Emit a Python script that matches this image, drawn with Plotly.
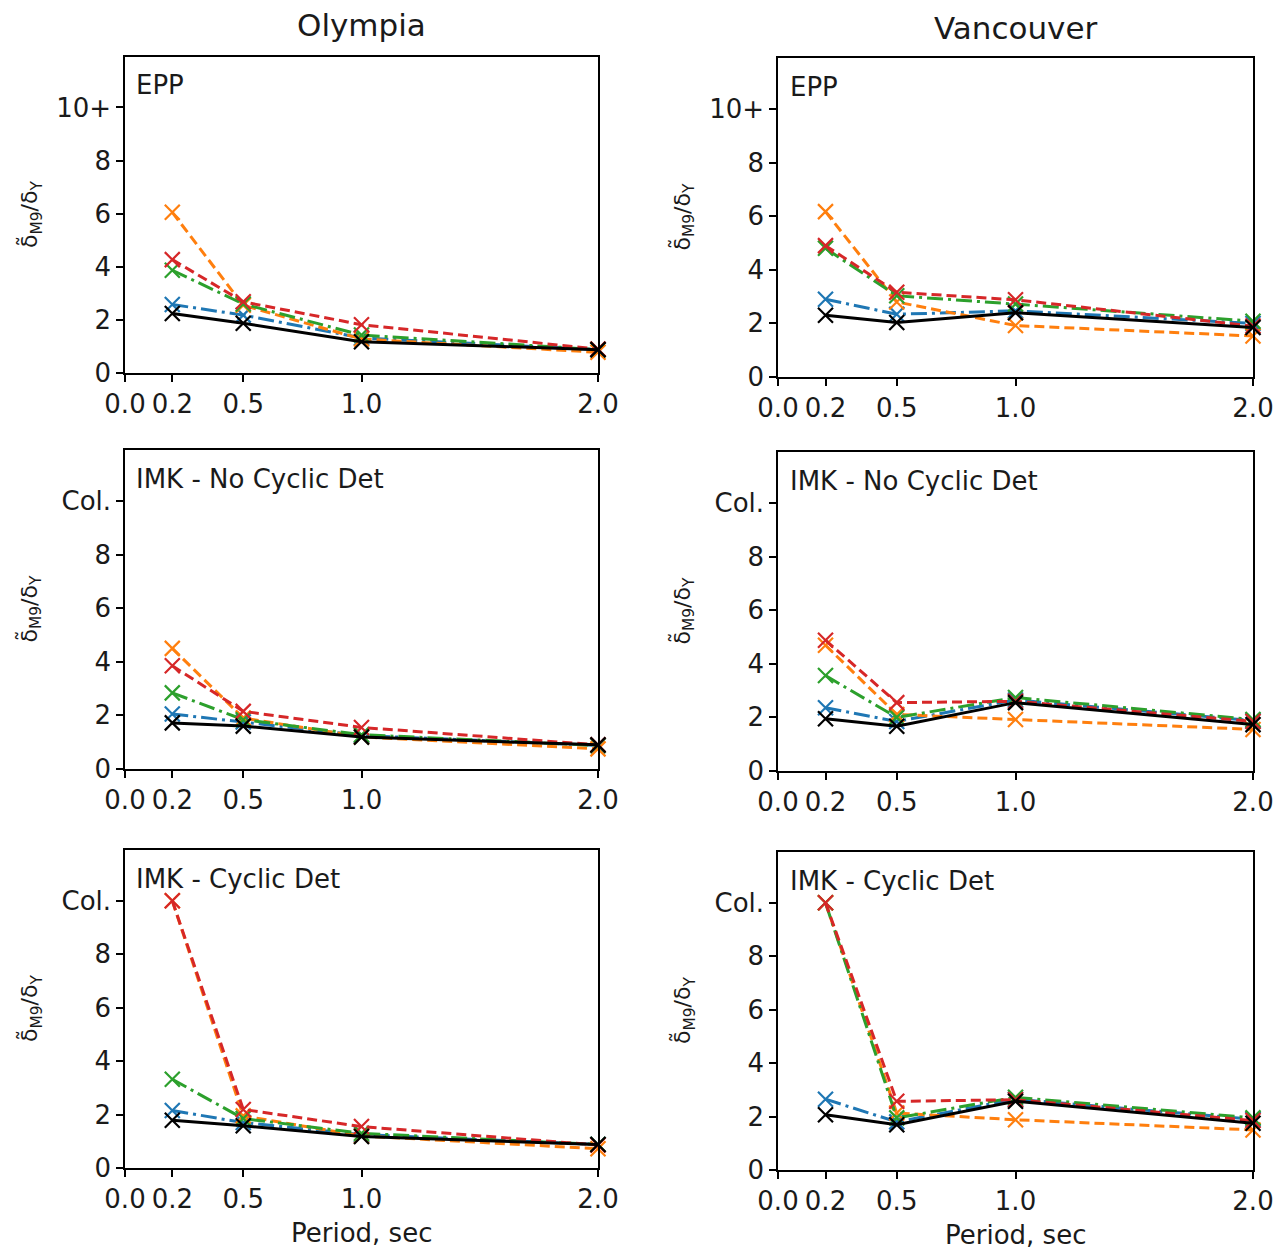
import plotly.graph_objects as go

# page is shown with the browser's default 8px body margin
OFF = 8
W, H = 1288 - OFF, 1251 - OFF

periods = [0.2, 0.5, 1.0, 2.0]
x_tickvals = [0.0, 0.2, 0.5, 1.0, 2.0]
x_ticktext = ["0.0", "0.2", "0.5", "1.0", "2.0"]
y_tickvals = [0, 2, 4, 6, 8, 10]
y_ticktext_epp = ["0", "2", "4", "6", "8", "10+"]
y_ticktext_imk = ["0", "2", "4", "6", "8", "Col."]

col_titles = ["Olympia", "Vancouver"]
row_labels = ["EPP", "IMK - No Cyclic Det", "IMK - Cyclic Det"]
series_names = ["blue", "orange", "green", "red", "black"]

# Olympia
oly_epp_blue = [2.58, 2.18, 1.32, 0.88]
oly_epp_orange = [6.05, 2.55, 1.28, 0.78]
oly_epp_green = [3.87, 2.6, 1.43, 0.88]
oly_epp_red = [4.27, 2.68, 1.82, 0.9]
oly_epp_black = [2.24, 1.87, 1.18, 0.88]

oly_nc_blue = [2.05, 1.75, 1.25, 0.88]
oly_nc_orange = [4.5, 1.9, 1.2, 0.75]
oly_nc_green = [2.84, 1.84, 1.28, 0.88]
oly_nc_red = [3.85, 2.15, 1.55, 0.9]
oly_nc_black = [1.72, 1.6, 1.19, 0.9]

oly_cy_blue = [2.15, 1.7, 1.25, 0.88]
oly_cy_orange = [10.0, 1.95, 1.2, 0.72]
oly_cy_green = [3.32, 1.85, 1.3, 0.88]
oly_cy_red = [10.0, 2.19, 1.55, 0.86]
oly_cy_black = [1.79, 1.58, 1.18, 0.88]

# Vancouver
van_epp_blue = [2.9, 2.34, 2.47, 2.0]
van_epp_orange = [6.17, 2.8, 1.92, 1.53]
van_epp_green = [4.8, 3.03, 2.72, 2.08]
van_epp_red = [4.9, 3.16, 2.88, 1.9]
van_epp_black = [2.3, 2.03, 2.4, 1.85]

van_nc_blue = [2.36, 1.85, 2.65, 1.88]
van_nc_orange = [4.69, 2.11, 1.92, 1.55]
van_nc_green = [3.56, 2.0, 2.74, 1.92]
van_nc_red = [4.88, 2.55, 2.6, 1.85]
van_nc_black = [1.95, 1.67, 2.55, 1.73]

van_cy_blue = [2.65, 1.8, 2.65, 1.9]
van_cy_orange = [10.0, 2.13, 1.88, 1.5]
van_cy_green = [10.0, 1.95, 2.72, 1.95]
van_cy_red = [10.0, 2.57, 2.63, 1.85]
van_cy_black = [2.07, 1.69, 2.57, 1.75]

panels = [
    [[oly_epp_blue, oly_epp_orange, oly_epp_green, oly_epp_red, oly_epp_black],
     [van_epp_blue, van_epp_orange, van_epp_green, van_epp_red, van_epp_black]],
    [[oly_nc_blue, oly_nc_orange, oly_nc_green, oly_nc_red, oly_nc_black],
     [van_nc_blue, van_nc_orange, van_nc_green, van_nc_red, van_nc_black]],
    [[oly_cy_blue, oly_cy_orange, oly_cy_green, oly_cy_red, oly_cy_black],
     [van_cy_blue, van_cy_orange, van_cy_green, van_cy_red, van_cy_black]],
]

colors = {"blue": "#1f77b4", "orange": "#ff7f0e", "green": "#2ca02c",
          "red": "#d62728", "black": "#000000"}
dashes = {"blue": "16px,5px,3px,5px", "orange": "10px,5px",
          "green": "16px,5px,3px,5px", "red": "10px,5px", "black": "solid"}

# page-pixel geometry of each panel: (left, right) and (top, bottom)
col_x = [(125, 598), (778, 1253)]
row_y = [[(57, 373), (58, 377)],
         [(450, 769), (452, 771)],
         [(850, 1168), (852, 1170)]]


def px(x):
    return (x - OFF) / W


def py(y):
    return 1 - (y - OFF) / H


FONT = "DejaVu Sans"
TXT = "#1a1a1a"
fig = go.Figure()
layout = {}
annotations = []

idx = 0
for r in range(3):
    for c in range(2):
        idx += 1
        xa = "xaxis" if idx == 1 else f"xaxis{idx}"
        ya = "yaxis" if idx == 1 else f"yaxis{idx}"
        xr = "x" if idx == 1 else f"x{idx}"
        yr = "y" if idx == 1 else f"y{idx}"
        left, right = col_x[c]
        top, bottom = row_y[r][c]
        layout[xa] = dict(
            domain=[px(left), px(right)], anchor=yr, range=[0, 2.0],
            tickvals=x_tickvals, ticktext=x_ticktext, ticks="outside",
            ticklen=7, tickwidth=1.5, tickcolor="black", showline=True,
            linecolor="black", linewidth=1.5, mirror=True, showgrid=False,
            zeroline=False, automargin=False,
            tickfont=dict(family=FONT, size=26, color=TXT),
        )
        layout[ya] = dict(
            domain=[py(bottom), py(top)], anchor=xr, range=[0, 11.9],
            tickvals=y_tickvals,
            ticktext=y_ticktext_epp if r == 0 else y_ticktext_imk,
            ticks="outside", ticklen=7, tickwidth=1.5, tickcolor="black",
            showline=True, linecolor="black", linewidth=1.5, mirror=True,
            showgrid=False, zeroline=False, automargin=False,
            tickfont=dict(family=FONT, size=26, color=TXT),
        )
        for name, vals in zip(series_names, panels[r][c]):
            fig.add_trace(go.Scatter(
                x=periods, y=vals, mode="lines+markers", xaxis=xr, yaxis=yr,
                line=dict(color=colors[name], width=3, dash=dashes[name]),
                marker=dict(symbol="x-thin", size=15,
                            line=dict(color=colors[name], width=2.2)),
                cliponaxis=False, showlegend=False,
            ))
        annotations.append(dict(
            text=row_labels[r], xref=f"{xr} domain", yref=f"{yr} domain",
            x=0.02, y=0.91, xanchor="left", yanchor="middle", showarrow=False,
            font=dict(family=FONT, size=26, color=TXT),
        ))
        # y axis label
        annotations.append(dict(
            text="δ\u0303<sub>M9</sub>/δ<sub>Y</sub>", xref="paper", yref="paper",
            x=px(left - 95), y=py((top + bottom) / 2),
            xanchor="center", yanchor="middle", textangle=-90, showarrow=False,
            font=dict(family=FONT, size=22, color=TXT),
        ))
        if r == 2:
            annotations.append(dict(
                text="Period, sec", xref="paper", yref="paper",
                x=px((left + right) / 2), y=py(bottom + 65),
                xanchor="center", yanchor="middle", showarrow=False,
                font=dict(family=FONT, size=26, color=TXT),
            ))

for c, title in enumerate(col_titles):
    left, right = col_x[c]
    annotations.append(dict(
        text=title, xref="paper", yref="paper",
        x=px((left + right) / 2), y=py(25 + 3 * c),
        xanchor="center", yanchor="middle", showarrow=False,
        font=dict(family=FONT, size=31, color=TXT),
    ))

fig.update_layout(
    width=W, height=H, margin=dict(l=0, r=0, t=0, b=0, autoexpand=False),
    plot_bgcolor="white", paper_bgcolor="white",
    annotations=annotations, showlegend=False, **layout,
)

fig.write_html("out.html")
